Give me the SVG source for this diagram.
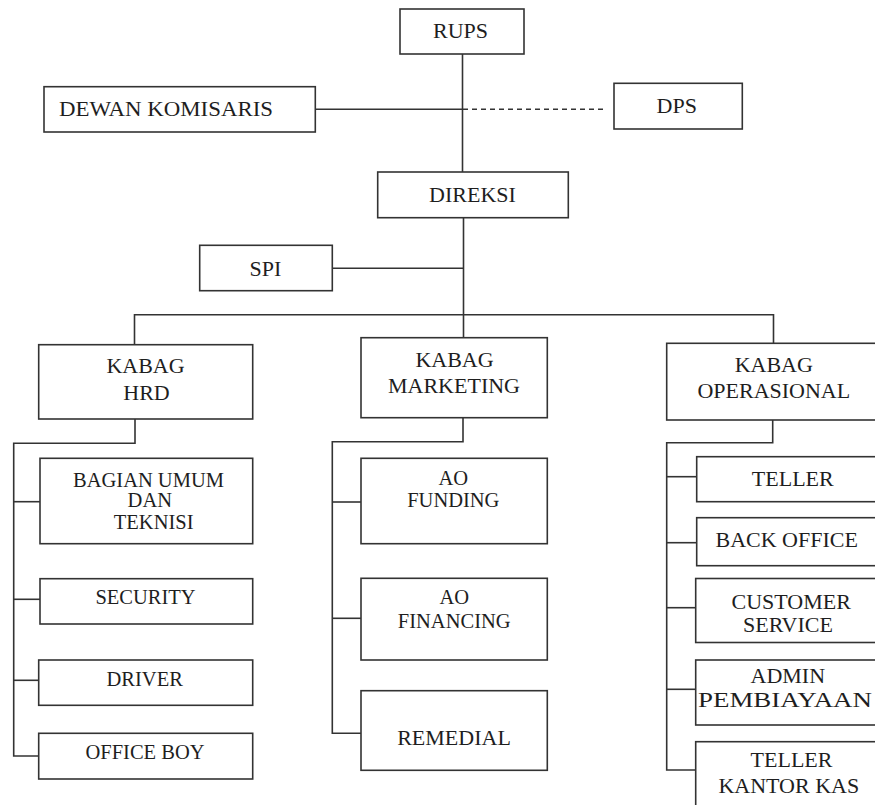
<svg xmlns="http://www.w3.org/2000/svg" width="875" height="805" viewBox="0 0 875 805">
<style>
.box{fill:#fff;stroke:#333;stroke-width:1.6}
.ln{fill:none;stroke:#333;stroke-width:1.6}
.dash{fill:none;stroke:#333;stroke-width:1.6;stroke-dasharray:5 4}
text{font-family:"Liberation Serif","Times New Roman",serif;font-size:22px;fill:#1e1e1e;text-anchor:middle}
.s{font-size:20.5px}
</style>
<rect width="875" height="805" fill="#fff"/>
<g id="connectors">
<path class="ln" d="M462.5 54 V172"/>
<path class="ln" d="M315 109.3 H462.5"/>
<path class="dash" d="M463 109.3 H607"/>
<path class="ln" d="M463.5 217.7 V337.7"/>
<path class="ln" d="M332.3 268.3 H463.5"/>
<path class="ln" d="M134.5 344.7 V314.7 H773.5 V343.3"/>
<path class="ln" d="M135 419 V443.3 H13.7 V756 H38.7"/>
<path class="ln" d="M13.7 501.7 H40"/>
<path class="ln" d="M13.7 599.3 H40"/>
<path class="ln" d="M13.7 680.3 H38.7"/>
<path class="ln" d="M463 417.7 V441.7 H332.3 V733.3 H361"/>
<path class="ln" d="M332.3 502 H361"/>
<path class="ln" d="M332.3 618.3 H361"/>
<path class="ln" d="M772.7 420 V442.7 H666.7 V770 H695.7"/>
<path class="ln" d="M666.7 476.7 H696.7"/>
<path class="ln" d="M666.7 542.7 H696.7"/>
<path class="ln" d="M666.7 607.7 H695.7"/>
<path class="ln" d="M666.7 689.3 H695.7"/>
</g>
<g id="rups"><rect class="box" x="400" y="9" width="124" height="45"/><text x="460.5" y="37.7">RUPS</text></g>
<g id="dewan-komisaris"><rect class="box" x="44" y="86.7" width="271.3" height="45.3"/><text x="166" y="116" textLength="214" lengthAdjust="spacingAndGlyphs">DEWAN KOMISARIS</text></g>
<g id="dps"><rect class="box" x="614" y="83.3" width="128.3" height="45.7"/><text x="676.7" y="113.3">DPS</text></g>
<g id="direksi"><rect class="box" x="377.7" y="172" width="190.6" height="45.7"/><text x="472.5" y="201.7">DIREKSI</text></g>
<g id="spi"><rect class="box" x="199.7" y="245.3" width="132.6" height="45.4"/><text x="265.5" y="275.7">SPI</text></g>
<g id="kabag-hrd"><rect class="box" x="38.7" y="344.7" width="214" height="74.3"/><text x="145.5" y="373.3">KABAG</text><text x="146.5" y="400">HRD</text></g>
<g id="bagian-umum"><rect class="box" x="40" y="458.3" width="212.7" height="85.4"/><text class="s" x="148.5" y="486.7">BAGIAN UMUM</text><text class="s" x="149.8" y="507.3">DAN</text><text class="s" x="153.7" y="529">TEKNISI</text></g>
<g id="security"><rect class="box" x="40" y="578.7" width="212.7" height="45.3"/><text class="s" x="145.5" y="604">SECURITY</text></g>
<g id="driver"><rect class="box" x="38.7" y="660" width="214" height="45.3"/><text class="s" x="144.7" y="686">DRIVER</text></g>
<g id="office-boy"><rect class="box" x="38.7" y="733.3" width="214" height="45.7"/><text class="s" x="145" y="759.3">OFFICE BOY</text></g>
<g id="kabag-marketing"><rect class="box" x="361" y="337.7" width="186.3" height="80"/><text x="454.5" y="366.7">KABAG</text><text x="454" y="393.3">MARKETING</text></g>
<g id="ao-funding"><rect class="box" x="361" y="458.3" width="186.3" height="85.4"/><text class="s" x="453.3" y="485">AO</text><text class="s" x="453.3" y="506.7">FUNDING</text></g>
<g id="ao-financing"><rect class="box" x="361" y="578.3" width="186.3" height="81.7"/><text class="s" x="454.2" y="604">AO</text><text class="s" x="454.2" y="628.3">FINANCING</text></g>
<g id="remedial"><rect class="box" x="361" y="690.7" width="186.3" height="79.6"/><text x="454" y="745">REMEDIAL</text></g>
<g id="kabag-operasional"><rect class="box" x="666.7" y="343.3" width="215" height="76.7"/><text x="773.8" y="372.3">KABAG</text><text x="773.8" y="398.3">OPERASIONAL</text></g>
<g id="teller"><rect class="box" x="696.7" y="456.7" width="185" height="45"/><text x="792.8" y="486">TELLER</text></g>
<g id="back-office"><rect class="box" x="696.7" y="517.7" width="185" height="48"/><text x="786.7" y="546.7">BACK OFFICE</text></g>
<g id="customer-service"><rect class="box" x="695.7" y="578.5" width="186" height="64"/><text x="791.2" y="609">CUSTOMER</text><text x="788" y="632.3">SERVICE</text></g>
<g id="admin-pembiayaan"><rect class="box" x="695.7" y="660" width="186" height="65"/><text x="787.8" y="683.3" font-size="23">ADMIN</text><text x="785" y="707.3" font-size="23.5" textLength="174" lengthAdjust="spacingAndGlyphs">PEMBIAYAAN</text></g>
<g id="teller-kantor-kas"><rect class="box" x="695.7" y="741.7" width="186" height="80"/><text x="791.5" y="766.7">TELLER</text><text x="788.8" y="792.7" font-size="23">KANTOR KAS</text></g>
</svg>
